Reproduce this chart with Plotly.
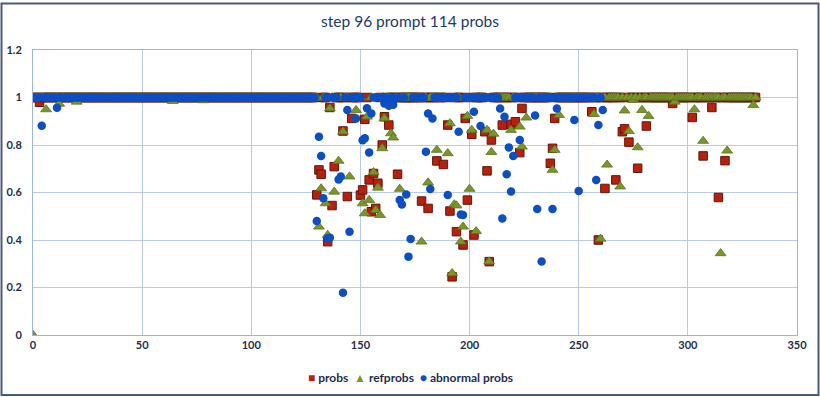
import plotly.graph_objects as go

# ---- data ----
n_tokens = 332          # probs / refprobs indices 0..331
n_abnormal = 262        # abnormal probs indices 0..261
band_value = 1.0        # most values sit on the 1.0 band

probs_idx = [3, 130, 131, 132, 135, 136, 137, 138, 142, 144, 146, 150, 151, 152, 154, 155,
             156, 157, 158, 160, 161, 163, 167, 178, 181, 185, 188, 190, 191, 192, 194, 197,
             198, 199, 201, 202, 207, 208, 209, 210, 215, 219, 221, 223, 224, 237, 238, 239,
             256, 259, 262, 267, 270, 271, 273, 277, 281, 293, 302, 307, 311, 314, 317]
probs_val = [0.98, 0.59, 0.695, 0.677, 0.393, 0.958, 0.545, 0.709, 0.859, 0.583, 0.912, 0.589,
             0.611, 0.908, 0.653, 0.519, 0.68, 0.533, 0.639, 0.80, 0.919, 0.884, 0.677, 0.564,
             0.533, 0.733, 0.718, 0.884, 0.522, 0.245, 0.435, 0.379, 0.912, 0.568, 0.845, 0.421,
             0.856, 0.691, 0.309, 0.821, 0.884, 0.887, 0.898, 0.768, 0.954, 0.723, 0.786, 0.912,
             0.94, 0.40, 0.617, 0.653, 0.856, 0.868, 0.812, 0.702, 0.88, 0.975, 0.916, 0.754,
             0.958, 0.579, 0.734]

refprobs_idx = [0, 6, 12, 20, 64, 78, 131, 132, 134, 135, 136, 138, 140, 142, 145, 148, 151,
                152, 153, 154, 156, 157, 158, 159, 160, 161, 164, 165, 168, 178, 181, 185, 190,
                191, 192, 193, 194, 196, 197, 199, 200, 201, 203, 208, 209, 210, 211, 219, 223,
                224, 226, 238, 239, 241, 257, 260, 263, 269, 271, 273, 275, 277, 279, 282, 294,
                303, 307, 315, 318, 330]
refprobs_val = [0.0, 0.95, 0.973, 0.982, 0.985, 0.988, 0.456, 0.617, 0.554, 0.421, 0.954, 0.603,
                0.733, 0.856, 0.667, 0.947, 0.554, 0.512, 0.919, 0.568, 0.685, 0.526, 0.62,
                0.505, 0.786, 0.912, 0.849, 0.831, 0.615, 0.393, 0.642, 0.779, 0.765, 0.891,
                0.26, 0.55, 0.545, 0.393, 0.456, 0.922, 0.615, 0.863, 0.437, 0.863, 0.309, 0.77,
                0.847, 0.863, 0.877, 0.793, 0.915, 0.695, 0.779, 0.926, 0.93, 0.405, 0.717,
                0.625, 0.945, 0.858, 0.99, 0.79, 0.947, 0.922, 0.982, 0.95, 0.817, 0.344, 0.776,
                0.968]

abnormal_idx = [4, 11, 130, 131, 132, 133, 135, 136, 140, 141, 142, 144, 145, 148, 151, 152,
                153, 154, 155, 161, 163, 165, 168, 169, 171, 172, 173, 180, 181, 182, 183, 190,
                195, 196, 197, 202, 205, 214, 215, 216, 217, 218, 219, 220, 223, 230, 231, 233,
                238, 240, 248, 250, 258, 259, 261]
abnormal_val = [0.881, 0.957, 0.48, 0.835, 0.754, 0.576, 0.407, 0.41, 0.655, 0.667, 0.178,
                0.947, 0.435, 0.912, 0.82, 0.828, 0.955, 0.768, 0.933, 0.975, 0.965, 0.97, 0.568,
                0.55, 0.592, 0.33, 0.404, 0.772, 0.933, 0.615, 0.912, 0.589, 0.856, 0.507, 0.505,
                0.94, 0.88, 0.954, 0.491, 0.919, 0.677, 0.79, 0.604, 0.754, 0.821, 0.924, 0.531,
                0.309, 0.531, 0.954, 0.905, 0.606, 0.653, 0.884, 0.947]

x_ticks = [0, 50, 100, 150, 200, 250, 300, 350]
y_ticks = [0, 0.2, 0.4, 0.6, 0.8, 1, 1.2]

series_names = ["probs", "refprobs", "abnormal probs"]
series_colors = ["#b81f0c", "#7b9628", "#0c4ec4"]


def build(n, idx, val):
    ys = [band_value] * n
    for i, v in zip(idx, val):
        ys[i] = v
    return list(range(n)), ys


px_, py_ = build(n_tokens, probs_idx, probs_val)
rx_, ry_ = build(n_tokens, refprobs_idx, refprobs_val)
ax_, ay_ = build(n_abnormal, abnormal_idx, abnormal_val)

FONT = "Lato, 'Open Sans', sans-serif"
TXT = "#1f2d52"

fig = go.Figure()
fig.add_trace(go.Scatter(x=px_, y=py_, mode="markers", name=series_names[0],
                         marker=dict(symbol="square", size=8.5, color=series_colors[0],
                                     line=dict(color="#5e1a0a", width=1))))
fig.add_trace(go.Scatter(x=rx_, y=ry_, mode="markers", name=series_names[1],
                         marker=dict(symbol="triangle-up", size=9.5, color=series_colors[1],
                                     line=dict(color="#5c7420", width=0.8))))
fig.add_trace(go.Scatter(x=ax_, y=ay_, mode="markers", name=series_names[2],
                         marker=dict(symbol="circle", size=8.5, color=series_colors[2],
                                     line=dict(width=0))))

plot_l, plot_r, plot_t, plot_b = 33, 797, 50, 335
W, H = 820, 397
pw, ph = plot_r - plot_l, plot_b - plot_t


def pxx(p):
    return (p - plot_l) / pw


def pxy(p):
    return (plot_b - p) / ph


def sym(ch, color):
    return f'<span style="color:{color};font-size:12px">{ch}</span>'


legend_text = (
    f'{sym("■", series_colors[0])} {series_names[0]}&nbsp;&nbsp;'
    f'{sym("▲", series_colors[1])} {series_names[1]}&nbsp;&nbsp;'
    f'{sym("●", series_colors[2])} {series_names[2]}'
)

fig.update_layout(
    width=W, height=H,
    margin=dict(l=plot_l, r=W - plot_r, t=plot_t, b=H - plot_b),
    paper_bgcolor="white", plot_bgcolor="white",
    title=dict(text="step 96 prompt 114 probs", x=0.5, xanchor="center",
               y=1 - 22 / H, yanchor="middle", automargin=False,
               font=dict(family=FONT, size=15.5, color="#22396a")),
    showlegend=False,
    xaxis=dict(range=[0, 350], tickvals=x_ticks, showgrid=True, gridcolor="#b9c9e8",
               gridwidth=1, zeroline=False, showline=True, linecolor="#9fb4dd", mirror=True,
               ticks="", automargin=False,
               tickfont=dict(family=FONT, size=11, color=TXT, weight="bold")),
    yaxis=dict(range=[0, 1.2], tickvals=y_ticks, showgrid=True, gridcolor="#b9c9e8",
               gridwidth=1, zeroline=False, showline=True, linecolor="#9fb4dd", mirror=True,
               ticks="", ticklabelstandoff=8, automargin=False,
               tickfont=dict(family=FONT, size=11, color=TXT, weight="bold")),
    annotations=[dict(text=legend_text, xref="paper", yref="paper", x=pxx(410),
                      y=pxy(377), xanchor="center", yanchor="middle", showarrow=False,
                      font=dict(family=FONT, size=12, color=TXT, weight="bold"))],
    shapes=[dict(type="rect", xref="paper", yref="paper",
                 x0=pxx(1.5), x1=pxx(818.5), y0=pxy(395), y1=pxy(3.5),
                 line=dict(color="#4a5a7c", width=2), fillcolor="rgba(0,0,0,0)",
                 layer="below")],
)

fig.write_html("out.html", config={"displayModeBar": False},
               post_script="document.body.style.margin='0';document.body.style.padding='0';")
